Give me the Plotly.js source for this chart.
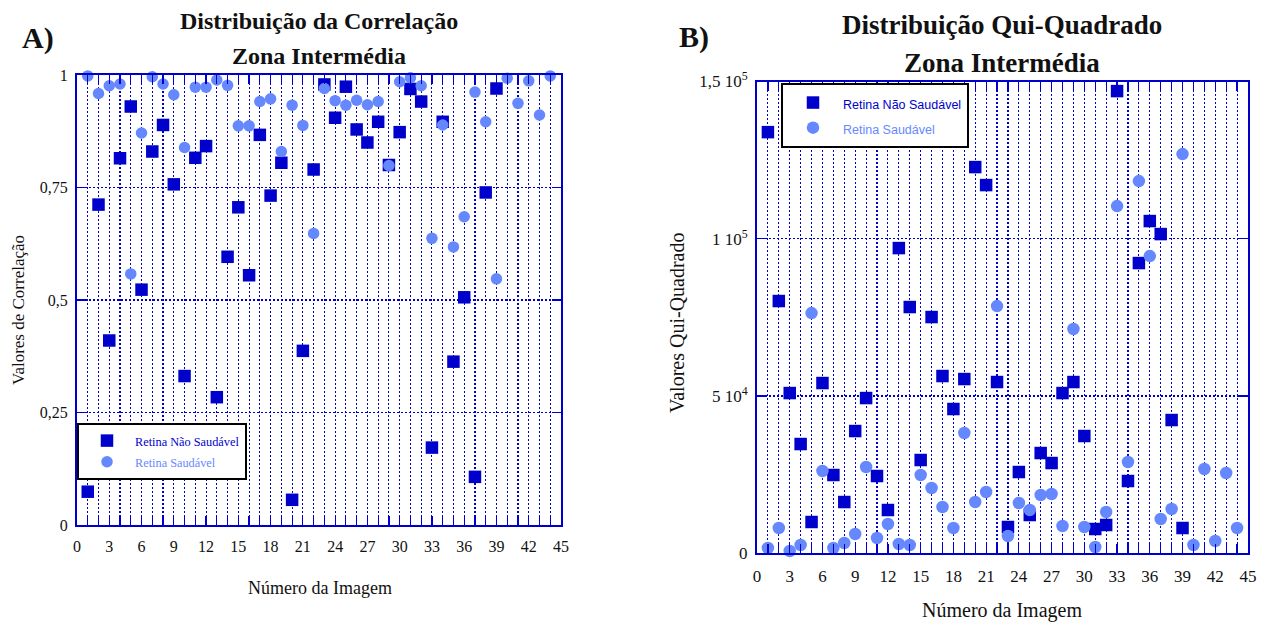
<!DOCTYPE html>
<html>
<head>
<meta charset="utf-8">
<script src="https://cdn.plot.ly/plotly-3.0.1.min.js"></script>
<style>
  html, body { margin: 0; padding: 0; background: #fff; }
  #chart { width: 1271px; height: 626px; }
</style>
</head>
<body>
<div id="chart"></div>
<script>
// Image numbers for each group
const imagensNaoSaudavel = [1,2,3,4,5,6,7,8,9,10,11,12,13,14,15,16,17,18,19,20,21,22,23,24,25,26,27,28,29,30,31,32,33,34,35,36,37,38,39];
const imagensSaudavel = [1,2,3,4,5,6,7,8,9,10,11,12,13,14,15,16,17,18,19,20,21,22,23,24,25,26,27,28,29,30,31,32,33,34,35,36,37,38,39,40,41,42,43,44];

// Correlation values (panel A)
const corrNaoSaudavel = [0.074, 0.712, 0.410, 0.815, 0.930, 0.523, 0.830, 0.889, 0.757, 0.331,
  0.816, 0.842, 0.284, 0.596, 0.706, 0.555, 0.867, 0.732, 0.805, 0.056,
  0.387, 0.790, 0.979, 0.905, 0.974, 0.879, 0.850, 0.896, 0.800, 0.873,
  0.969, 0.941, 0.172, 0.896, 0.363, 0.506, 0.107, 0.739, 0.970];
const corrSaudavel = [0.998, 0.959, 0.976, 0.980, 0.558, 0.871, 0.996, 0.980, 0.956, 0.839,
  0.973, 0.973, 0.989, 0.977, 0.887, 0.887, 0.941, 0.947, 0.830, 0.933,
  0.888, 0.648, 0.970, 0.943, 0.933, 0.944, 0.934, 0.941, 0.799, 0.985,
  0.994, 0.976, 0.637, 0.889, 0.618, 0.685, 0.962, 0.896, 0.547, 0.993,
  0.937, 0.987, 0.911, 0.998];

// Chi-square values (panel B)
const quiNaoSaudavel = [133900, 80200, 50950, 34740, 9950, 54130, 24890, 16300, 38870, 49360,
  24570, 13760, 97040, 78290, 29660, 75110, 56360, 45870, 55400, 122790,
  117070, 54450, 8360, 25840, 12170, 31880, 28700, 50950, 54450, 37290,
  7720, 9000, 146950, 22980, 92280, 105630, 101490, 42370, 8040];
const quiSaudavel = [1690, 8040, 730, 2640, 76380, 26160, 1690, 3270, 6130, 27430,
  4860, 9310, 2960, 2640, 24890, 20760, 14720, 8040, 38240, 16310,
  19490, 78610, 5500, 15990, 13760, 18530, 18850, 8680, 71300, 8360,
  2000, 13130, 110400, 29020, 118340, 94500, 10900, 14080, 126920, 2640,
  26800, 3910, 25520, 8040];

// Tick labels
const xTickVals = [0,3,6,9,12,15,18,21,24,27,30,33,36,39,42,45];
const xTickText = ["0","3","6","9","12","15","18","21","24","27","30","33","36","39","42","45"];
const corrTickVals = [0, 0.25, 0.5, 0.75, 1];
const corrTickText = ["0", "0,25", "0,5", "0,75", "1"];
const quiTickVals = [0, 50000, 100000, 150000];
const quiTickText = ["0", "5 10<sup>4</sup>", "1 10<sup>5</sup>", "1,5 10<sup>5</sup>"];

const nomeNaoSaudavel = "Retina Não Saudável";
const nomeSaudavel = "Retina Saudável";

const AZUL = "#0000CD";
const AZUL_CLARO = "#6688FF";
const SERIF = "Liberation Serif, Times New Roman, serif";
const SANS = "Liberation Sans, Arial, sans-serif";
const W = 1271, H = 626;

function px(x) { return x / W; }
function py(y) { return 1 - y / H; }

function label(text, color, size) {
  return '<span style="color:' + color + ';font-size:' + size + 'px">' + text + '</span>';
}

const traces = [
  {
    x: imagensNaoSaudavel, y: corrNaoSaudavel, xaxis: 'x', yaxis: 'y',
    type: 'scatter', mode: 'markers', cliponaxis: false,
    name: label(nomeNaoSaudavel, AZUL, 12.3), legend: 'legend',
    marker: { symbol: 'square', size: 12.5, color: AZUL }
  },
  {
    x: imagensSaudavel, y: corrSaudavel, xaxis: 'x', yaxis: 'y',
    type: 'scatter', mode: 'markers', cliponaxis: false,
    name: label(nomeSaudavel, AZUL_CLARO, 12.3), legend: 'legend',
    marker: { symbol: 'circle', size: 11.5, color: AZUL_CLARO }
  },
  {
    x: imagensNaoSaudavel, y: quiNaoSaudavel, xaxis: 'x2', yaxis: 'y2',
    type: 'scatter', mode: 'markers', cliponaxis: false,
    name: label(nomeNaoSaudavel, AZUL, 12.5), legend: 'legend2',
    marker: { symbol: 'square', size: 12.5, color: AZUL }
  },
  {
    x: imagensSaudavel, y: quiSaudavel, xaxis: 'x2', yaxis: 'y2',
    type: 'scatter', mode: 'markers', cliponaxis: false,
    name: label(nomeSaudavel, AZUL_CLARO, 12.5), legend: 'legend2',
    marker: { symbol: 'circle', size: 12.5, color: AZUL_CLARO }
  }
];

function xAxis(domain, fontSize, anchor) {
  return {
    domain: domain, anchor: anchor, range: [0, 45],
    tickmode: 'array', tickvals: xTickVals, ticktext: xTickText,
    ticks: 'inside', ticklen: 9, tickwidth: 1.2, tickcolor: AZUL,
    showgrid: true, gridcolor: AZUL, gridwidth: 1.1, griddash: '2px,2px',
    minor: { dtick: 1, tick0: 0, ticks: 'inside', ticklen: 9, tickwidth: 1.2, tickcolor: AZUL,
             showgrid: true, gridcolor: AZUL, gridwidth: 1.1, griddash: '2px,2px' },
    showline: true, linecolor: AZUL, linewidth: 2, mirror: 'allticks',
    zeroline: false, tickfont: { family: SERIF, size: fontSize, color: '#111' },
    ticklabelstandoff: 6, fixedrange: true
  };
}

function yAxis(domain, range, vals, text, fontSize, anchor) {
  return {
    domain: domain, anchor: anchor, range: range,
    tickmode: 'array', tickvals: vals, ticktext: text,
    ticks: 'inside', ticklen: 9, tickwidth: 1.2, tickcolor: AZUL,
    showgrid: true, gridcolor: AZUL, gridwidth: 1.1, griddash: '2px,2px',
    showline: true, linecolor: AZUL, linewidth: 2, mirror: 'allticks',
    zeroline: false, tickfont: { family: SERIF, size: fontSize, color: '#111' },
    ticklabelstandoff: 4, fixedrange: true
  };
}

function texto(x, y, text, size, bold, angle) {
  return {
    xref: 'paper', yref: 'paper', x: px(x), y: py(y),
    xanchor: 'center', yanchor: 'middle', showarrow: false,
    text: bold ? '<b>' + text + '</b>' : text, textangle: angle || 0,
    font: { family: SERIF, size: size, color: '#111' }
  };
}

const layout = {
  width: W, height: H,
  margin: { l: 0, r: 0, t: 0, b: 0 },
  paper_bgcolor: '#fff', plot_bgcolor: '#fff',
  showlegend: true,
  xaxis: xAxis([px(77), px(561)], 16, 'y'),
  yaxis: yAxis([py(525), py(75)], [0, 1], corrTickVals, corrTickText, 16, 'x'),
  xaxis2: xAxis([px(757), px(1248)], 17, 'y2'),
  yaxis2: yAxis([py(553.3), py(81.5)], [0, 150000], quiTickVals, quiTickText, 17, 'x2'),
  legend: {
    x: px(77), y: py(423), xanchor: 'left', yanchor: 'top',
    bgcolor: '#fff', bordercolor: '#000', borderwidth: 2,
    font: { family: SERIF, size: 14, color: AZUL }, itemwidth: 46,
    traceorder: 'normal'
  },
  legend2: {
    x: px(781), y: py(83), xanchor: 'left', yanchor: 'top',
    bgcolor: '#fff', bordercolor: '#000', borderwidth: 2,
    font: { family: SANS, size: 17, color: AZUL }, itemwidth: 50,
    traceorder: 'normal'
  },
  annotations: [
    texto(319, 21, 'Distribuição da Correlação', 24, true),
    texto(319, 56, 'Zona Intermédia', 24, true),
    texto(38, 38, 'A)', 30, true),
    texto(18, 310, 'Valores de Correlação', 17, false, -90),
    texto(320, 588, 'Número da Imagem', 18, false),
    texto(1002, 25, 'Distribuição Qui-Quadrado', 27, true),
    texto(1002, 63, 'Zona Intermédia', 27, true),
    texto(694, 37, 'B)', 30, true),
    texto(677, 322, 'Valores Qui-Quadrado', 20, false, -90),
    texto(1002, 610, 'Número da Imagem', 20, false)
  ]
};

Plotly.newPlot('chart', traces, layout, { staticPlot: true, displayModeBar: false });
</script>
</body>
</html>
